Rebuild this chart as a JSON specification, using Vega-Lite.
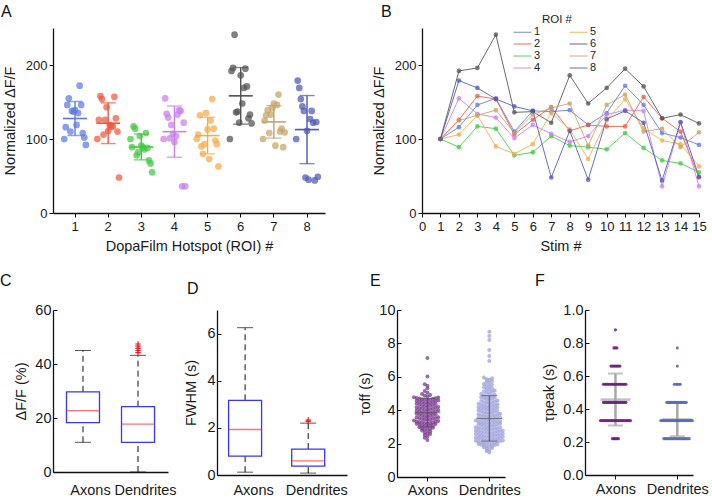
{
"$schema":"https://vega.github.io/schema/vega-lite/v6.json",
"padding":{"left":0,"top":4,"right":4,"bottom":2},
"config":{
 "font":"Liberation Sans",
 "view":{"stroke":null},
 "axis":{"grid":false,"domainColor":"#111","domainWidth":1.3,"tickColor":"#111","tickWidth":1,"tickSize":4,"labelFont":"Liberation Sans","labelFontSize":13,"labelColor":"#1a1a1a","titleFont":"Liberation Sans","titleFontSize":14.5,"titleFontWeight":"normal","titleColor":"#1a1a1a"},
 "title":{"fontSize":16,"fontWeight":"normal","anchor":"start","frame":"group","color":"#111","font":"Liberation Sans"}
},
"datasets":{
"roi":[
{"roi":"1","stim":1,"v":100},{"roi":"1","stim":2,"v":116},{"roi":"1","stim":3,"v":146},{"roi":"1","stim":4,"v":155},{"roi":"1","stim":5,"v":110},{"roi":"1","stim":6,"v":138},{"roi":"1","stim":7,"v":137},{"roi":"1","stim":8,"v":139},{"roi":"1","stim":9,"v":119},{"roi":"1","stim":10,"v":135},{"roi":"1","stim":11,"v":172},{"roi":"1","stim":12,"v":146},{"roi":"1","stim":13,"v":108},{"roi":"1","stim":14,"v":102},{"roi":"1","stim":15,"v":92},
{"roi":"2","stim":1,"v":100},{"roi":"2","stim":2,"v":126},{"roi":"2","stim":3,"v":158},{"roi":"2","stim":4,"v":154},{"roi":"2","stim":5,"v":106},{"roi":"2","stim":6,"v":126},{"roi":"2","stim":7,"v":143},{"roi":"2","stim":8,"v":111},{"roi":"2","stim":9,"v":119},{"roi":"2","stim":10,"v":117},{"roi":"2","stim":11,"v":117},{"roi":"2","stim":12,"v":157},{"roi":"2","stim":13,"v":128},{"roi":"2","stim":14,"v":110},{"roi":"2","stim":15,"v":48},
{"roi":"3","stim":1,"v":100},{"roi":"3","stim":2,"v":89},{"roi":"3","stim":3,"v":117},{"roi":"3","stim":4,"v":114},{"roi":"3","stim":5,"v":78},{"roi":"3","stim":6,"v":82},{"roi":"3","stim":7,"v":104},{"roi":"3","stim":8,"v":91},{"roi":"3","stim":9,"v":89},{"roi":"3","stim":10,"v":86},{"roi":"3","stim":11,"v":108},{"roi":"3","stim":12,"v":88},{"roi":"3","stim":13,"v":71},{"roi":"3","stim":14,"v":67},{"roi":"3","stim":15,"v":55},
{"roi":"4","stim":1,"v":100},{"roi":"4","stim":2,"v":155},{"roi":"4","stim":3,"v":134},{"roi":"4","stim":4,"v":129},{"roi":"4","stim":5,"v":101},{"roi":"4","stim":6,"v":119},{"roi":"4","stim":7,"v":107},{"roi":"4","stim":8,"v":96},{"roi":"4","stim":9,"v":104},{"roi":"4","stim":10,"v":133},{"roi":"4","stim":11,"v":139},{"roi":"4","stim":12,"v":138},{"roi":"4","stim":13,"v":36},{"roi":"4","stim":14,"v":122},{"roi":"4","stim":15,"v":36},
{"roi":"5","stim":1,"v":100},{"roi":"5","stim":2,"v":106},{"roi":"5","stim":3,"v":132},{"roi":"5","stim":4,"v":90},{"roi":"5","stim":5,"v":80},{"roi":"5","stim":6,"v":93},{"roi":"5","stim":7,"v":135},{"roi":"5","stim":8,"v":113},{"roi":"5","stim":9,"v":73},{"roi":"5","stim":10,"v":125},{"roi":"5","stim":11,"v":154},{"roi":"5","stim":12,"v":114},{"roi":"5","stim":13,"v":98},{"roi":"5","stim":14,"v":93},{"roi":"5","stim":15,"v":63},
{"roi":"6","stim":1,"v":100},{"roi":"6","stim":2,"v":192},{"roi":"6","stim":3,"v":196},{"roi":"6","stim":4,"v":241},{"roi":"6","stim":5,"v":136},{"roi":"6","stim":6,"v":137},{"roi":"6","stim":7,"v":122},{"roi":"6","stim":8,"v":186},{"roi":"6","stim":9,"v":148},{"roi":"6","stim":10,"v":169},{"roi":"6","stim":11,"v":195},{"roi":"6","stim":12,"v":171},{"roi":"6","stim":13,"v":128},{"roi":"6","stim":14,"v":133},{"roi":"6","stim":15,"v":121},
{"roi":"7","stim":1,"v":100},{"roi":"7","stim":2,"v":125},{"roi":"7","stim":3,"v":132},{"roi":"7","stim":4,"v":139},{"roi":"7","stim":5,"v":108},{"roi":"7","stim":6,"v":133},{"roi":"7","stim":7,"v":142},{"roi":"7","stim":8,"v":148},{"roi":"7","stim":9,"v":91},{"roi":"7","stim":10,"v":146},{"roi":"7","stim":11,"v":160},{"roi":"7","stim":12,"v":110},{"roi":"7","stim":13,"v":114},{"roi":"7","stim":14,"v":89},{"roi":"7","stim":15,"v":109},
{"roi":"8","stim":1,"v":100},{"roi":"8","stim":2,"v":179},{"roi":"8","stim":3,"v":169},{"roi":"8","stim":4,"v":154},{"roi":"8","stim":5,"v":144},{"roi":"8","stim":6,"v":138},{"roi":"8","stim":7,"v":48},{"roi":"8","stim":8,"v":111},{"roi":"8","stim":9,"v":45},{"roi":"8","stim":10,"v":127},{"roi":"8","stim":11,"v":138},{"roi":"8","stim":12,"v":122},{"roi":"8","stim":13,"v":44},{"roi":"8","stim":14,"v":123},{"roi":"8","stim":15,"v":49}
],
"cbox":[{"g":"Axons","lo":11,"q1":18.3,"med":22.7,"q3":29.7,"hi":45},{"g":"Dendrites","lo":0,"q1":11,"med":17.7,"q3":24.2,"hi":43.2}],
"cout":[{"g":"Dendrites","v":44.2},{"g":"Dendrites","v":45},{"g":"Dendrites","v":45.8},{"g":"Dendrites","v":46.6},{"g":"Dendrites","v":47.4}],
"dbox":[{"g":"Axons","lo":0.12,"q1":0.8,"med":1.93,"q3":3.17,"hi":6.25},{"g":"Dendrites","lo":0.08,"q1":0.38,"med":0.6,"q3":1.1,"hi":2.2}],
"dout":[{"g":"Dendrites","v":2.27},{"g":"Dendrites","v":2.33}],
"estat":[{"g":"Axons","m":3.85,"lo":3.0,"hi":4.7},{"g":"Dendrites","m":3.5,"lo":2.15,"hi":4.87}],
"fstat":[{"g":"Axons","m":0.457,"lo":0.3,"hi":0.615},{"g":"Dendrites","m":0.337,"lo":0.235,"hi":0.44}],
"edata":[
{"g":"Axons","v":2.22},{"g":"Axons","v":2.35},{"g":"Axons","v":2.42},{"g":"Axons","v":2.51},{"g":"Axons","v":2.58},{"g":"Axons","v":2.61},{"g":"Axons","v":2.66},{"g":"Axons","v":2.72},{"g":"Axons","v":2.78},{"g":"Axons","v":2.81},{"g":"Axons","v":2.84},{"g":"Axons","v":2.88},{"g":"Axons","v":2.91},{"g":"Axons","v":2.95},{"g":"Axons","v":2.98},{"g":"Axons","v":3.01},{"g":"Axons","v":3.04},{"g":"Axons","v":3.07},{"g":"Axons","v":3.09},{"g":"Axons","v":3.12},{"g":"Axons","v":3.14},{"g":"Axons","v":3.17},{"g":"Axons","v":3.19},{"g":"Axons","v":3.21},{"g":"Axons","v":3.22},{"g":"Axons","v":3.24},{"g":"Axons","v":3.26},{"g":"Axons","v":3.28},{"g":"Axons","v":3.3},{"g":"Axons","v":3.32},{"g":"Axons","v":3.33},{"g":"Axons","v":3.36},{"g":"Axons","v":3.38},{"g":"Axons","v":3.41},{"g":"Axons","v":3.43},{"g":"Axons","v":3.45},{"g":"Axons","v":3.47},{"g":"Axons","v":3.5},{"g":"Axons","v":3.52},{"g":"Axons","v":3.54},{"g":"Axons","v":3.56},{"g":"Axons","v":3.58},{"g":"Axons","v":3.61},{"g":"Axons","v":3.63},{"g":"Axons","v":3.66},{"g":"Axons","v":3.68},{"g":"Axons","v":3.71},{"g":"Axons","v":3.73},{"g":"Axons","v":3.76},{"g":"Axons","v":3.78},{"g":"Axons","v":3.81},{"g":"Axons","v":3.83},{"g":"Axons","v":3.85},{"g":"Axons","v":3.87},{"g":"Axons","v":3.89},{"g":"Axons","v":3.92},{"g":"Axons","v":3.94},{"g":"Axons","v":3.96},{"g":"Axons","v":3.98},{"g":"Axons","v":4.01},{"g":"Axons","v":4.03},{"g":"Axons","v":4.05},{"g":"Axons","v":4.08},{"g":"Axons","v":4.1},{"g":"Axons","v":4.12},{"g":"Axons","v":4.14},{"g":"Axons","v":4.16},{"g":"Axons","v":4.19},{"g":"Axons","v":4.21},{"g":"Axons","v":4.23},{"g":"Axons","v":4.26},{"g":"Axons","v":4.28},{"g":"Axons","v":4.31},{"g":"Axons","v":4.33},{"g":"Axons","v":4.36},{"g":"Axons","v":4.38},{"g":"Axons","v":4.41},{"g":"Axons","v":4.43},{"g":"Axons","v":4.45},{"g":"Axons","v":4.47},{"g":"Axons","v":4.5},{"g":"Axons","v":4.52},{"g":"Axons","v":4.54},{"g":"Axons","v":4.56},{"g":"Axons","v":4.58},{"g":"Axons","v":4.61},{"g":"Axons","v":4.62},{"g":"Axons","v":4.64},{"g":"Axons","v":4.66},{"g":"Axons","v":4.68},{"g":"Axons","v":4.7},{"g":"Axons","v":4.72},{"g":"Axons","v":4.73},{"g":"Axons","v":4.76},{"g":"Axons","v":4.78},{"g":"Axons","v":4.82},{"g":"Axons","v":4.86},{"g":"Axons","v":4.91},{"g":"Axons","v":4.97},{"g":"Axons","v":5.05},{"g":"Axons","v":5.15},{"g":"Axons","v":5.31},{"g":"Axons","v":5.47},{"g":"Axons","v":5.56},{"g":"Axons","v":6.02},{"g":"Axons","v":7.12},
{"g":"Dendrites","v":1.47},{"g":"Dendrites","v":1.56},{"g":"Dendrites","v":1.62},{"g":"Dendrites","v":1.67},{"g":"Dendrites","v":1.73},{"g":"Dendrites","v":1.78},{"g":"Dendrites","v":1.81},{"g":"Dendrites","v":1.83},{"g":"Dendrites","v":1.86},{"g":"Dendrites","v":1.88},{"g":"Dendrites","v":1.91},{"g":"Dendrites","v":1.93},{"g":"Dendrites","v":1.96},{"g":"Dendrites","v":1.98},{"g":"Dendrites","v":2.01},{"g":"Dendrites","v":2.02},{"g":"Dendrites","v":2.04},{"g":"Dendrites","v":2.06},{"g":"Dendrites","v":2.08},{"g":"Dendrites","v":2.1},{"g":"Dendrites","v":2.12},{"g":"Dendrites","v":2.14},{"g":"Dendrites","v":2.15},{"g":"Dendrites","v":2.17},{"g":"Dendrites","v":2.19},{"g":"Dendrites","v":2.21},{"g":"Dendrites","v":2.22},{"g":"Dendrites","v":2.24},{"g":"Dendrites","v":2.26},{"g":"Dendrites","v":2.28},{"g":"Dendrites","v":2.3},{"g":"Dendrites","v":2.31},{"g":"Dendrites","v":2.33},{"g":"Dendrites","v":2.35},{"g":"Dendrites","v":2.37},{"g":"Dendrites","v":2.39},{"g":"Dendrites","v":2.41},{"g":"Dendrites","v":2.42},{"g":"Dendrites","v":2.44},{"g":"Dendrites","v":2.46},{"g":"Dendrites","v":2.48},{"g":"Dendrites","v":2.5},{"g":"Dendrites","v":2.52},{"g":"Dendrites","v":2.53},{"g":"Dendrites","v":2.55},{"g":"Dendrites","v":2.57},{"g":"Dendrites","v":2.59},{"g":"Dendrites","v":2.61},{"g":"Dendrites","v":2.63},{"g":"Dendrites","v":2.64},{"g":"Dendrites","v":2.66},{"g":"Dendrites","v":2.68},{"g":"Dendrites","v":2.7},{"g":"Dendrites","v":2.72},{"g":"Dendrites","v":2.74},{"g":"Dendrites","v":2.75},{"g":"Dendrites","v":2.77},{"g":"Dendrites","v":2.79},{"g":"Dendrites","v":2.81},{"g":"Dendrites","v":2.83},{"g":"Dendrites","v":2.85},{"g":"Dendrites","v":2.87},{"g":"Dendrites","v":2.89},{"g":"Dendrites","v":2.9},{"g":"Dendrites","v":2.92},{"g":"Dendrites","v":2.94},{"g":"Dendrites","v":2.96},{"g":"Dendrites","v":2.98},{"g":"Dendrites","v":3.01},{"g":"Dendrites","v":3.03},{"g":"Dendrites","v":3.05},{"g":"Dendrites","v":3.08},{"g":"Dendrites","v":3.1},{"g":"Dendrites","v":3.12},{"g":"Dendrites","v":3.14},{"g":"Dendrites","v":3.16},{"g":"Dendrites","v":3.19},{"g":"Dendrites","v":3.21},{"g":"Dendrites","v":3.23},{"g":"Dendrites","v":3.25},{"g":"Dendrites","v":3.27},{"g":"Dendrites","v":3.29},{"g":"Dendrites","v":3.3},{"g":"Dendrites","v":3.32},{"g":"Dendrites","v":3.34},{"g":"Dendrites","v":3.36},{"g":"Dendrites","v":3.38},{"g":"Dendrites","v":3.41},{"g":"Dendrites","v":3.43},{"g":"Dendrites","v":3.45},{"g":"Dendrites","v":3.47},{"g":"Dendrites","v":3.49},{"g":"Dendrites","v":3.51},{"g":"Dendrites","v":3.54},{"g":"Dendrites","v":3.56},{"g":"Dendrites","v":3.58},{"g":"Dendrites","v":3.61},{"g":"Dendrites","v":3.63},{"g":"Dendrites","v":3.65},{"g":"Dendrites","v":3.67},{"g":"Dendrites","v":3.69},{"g":"Dendrites","v":3.72},{"g":"Dendrites","v":3.74},{"g":"Dendrites","v":3.76},{"g":"Dendrites","v":3.78},{"g":"Dendrites","v":3.81},{"g":"Dendrites","v":3.83},{"g":"Dendrites","v":3.86},{"g":"Dendrites","v":3.88},{"g":"Dendrites","v":3.9},{"g":"Dendrites","v":3.93},{"g":"Dendrites","v":3.95},{"g":"Dendrites","v":3.98},{"g":"Dendrites","v":4.01},{"g":"Dendrites","v":4.04},{"g":"Dendrites","v":4.06},{"g":"Dendrites","v":4.08},{"g":"Dendrites","v":4.11},{"g":"Dendrites","v":4.13},{"g":"Dendrites","v":4.16},{"g":"Dendrites","v":4.18},{"g":"Dendrites","v":4.21},{"g":"Dendrites","v":4.23},{"g":"Dendrites","v":4.26},{"g":"Dendrites","v":4.28},{"g":"Dendrites","v":4.31},{"g":"Dendrites","v":4.33},{"g":"Dendrites","v":4.35},{"g":"Dendrites","v":4.38},{"g":"Dendrites","v":4.41},{"g":"Dendrites","v":4.44},{"g":"Dendrites","v":4.46},{"g":"Dendrites","v":4.49},{"g":"Dendrites","v":4.52},{"g":"Dendrites","v":4.55},{"g":"Dendrites","v":4.58},{"g":"Dendrites","v":4.62},{"g":"Dendrites","v":4.65},{"g":"Dendrites","v":4.68},{"g":"Dendrites","v":4.71},{"g":"Dendrites","v":4.74},{"g":"Dendrites","v":4.77},{"g":"Dendrites","v":4.81},{"g":"Dendrites","v":4.84},{"g":"Dendrites","v":4.87},{"g":"Dendrites","v":4.9},{"g":"Dendrites","v":4.94},{"g":"Dendrites","v":4.97},{"g":"Dendrites","v":5.02},{"g":"Dendrites","v":5.06},{"g":"Dendrites","v":5.1},{"g":"Dendrites","v":5.14},{"g":"Dendrites","v":5.18},{"g":"Dendrites","v":5.22},{"g":"Dendrites","v":5.27},{"g":"Dendrites","v":5.32},{"g":"Dendrites","v":5.37},{"g":"Dendrites","v":5.42},{"g":"Dendrites","v":5.47},{"g":"Dendrites","v":5.52},{"g":"Dendrites","v":5.57},{"g":"Dendrites","v":5.63},{"g":"Dendrites","v":5.69},{"g":"Dendrites","v":5.75},{"g":"Dendrites","v":5.82},{"g":"Dendrites","v":5.86},{"g":"Dendrites","v":5.91},{"g":"Dendrites","v":5.96},{"g":"Dendrites","v":6.95},{"g":"Dendrites","v":7.25},{"g":"Dendrites","v":7.6},{"g":"Dendrites","v":8.2},{"g":"Dendrites","v":8.45},{"g":"Dendrites","v":8.7}
],
"fdata":[
{"g":"Axons","v":0.22},{"g":"Axons","v":0.22},{"g":"Axons","v":0.22},{"g":"Axons","v":0.22},{"g":"Axons","v":0.22},
{"g":"Axons","v":0.33},{"g":"Axons","v":0.33},{"g":"Axons","v":0.33},{"g":"Axons","v":0.33},{"g":"Axons","v":0.33},{"g":"Axons","v":0.33},{"g":"Axons","v":0.33},{"g":"Axons","v":0.33},{"g":"Axons","v":0.33},{"g":"Axons","v":0.33},{"g":"Axons","v":0.33},{"g":"Axons","v":0.33},{"g":"Axons","v":0.33},{"g":"Axons","v":0.33},{"g":"Axons","v":0.33},{"g":"Axons","v":0.33},{"g":"Axons","v":0.33},{"g":"Axons","v":0.33},{"g":"Axons","v":0.33},{"g":"Axons","v":0.33},{"g":"Axons","v":0.33},
{"g":"Axons","v":0.44},{"g":"Axons","v":0.44},{"g":"Axons","v":0.44},{"g":"Axons","v":0.44},{"g":"Axons","v":0.44},{"g":"Axons","v":0.44},{"g":"Axons","v":0.44},{"g":"Axons","v":0.44},{"g":"Axons","v":0.44},{"g":"Axons","v":0.44},{"g":"Axons","v":0.44},{"g":"Axons","v":0.44},{"g":"Axons","v":0.44},{"g":"Axons","v":0.44},{"g":"Axons","v":0.44},{"g":"Axons","v":0.44},
{"g":"Axons","v":0.55},{"g":"Axons","v":0.55},{"g":"Axons","v":0.55},{"g":"Axons","v":0.55},{"g":"Axons","v":0.55},{"g":"Axons","v":0.55},{"g":"Axons","v":0.55},{"g":"Axons","v":0.55},{"g":"Axons","v":0.55},{"g":"Axons","v":0.55},{"g":"Axons","v":0.55},{"g":"Axons","v":0.55},{"g":"Axons","v":0.55},{"g":"Axons","v":0.55},{"g":"Axons","v":0.55},{"g":"Axons","v":0.55},
{"g":"Axons","v":0.66},{"g":"Axons","v":0.66},{"g":"Axons","v":0.66},{"g":"Axons","v":0.66},{"g":"Axons","v":0.66},{"g":"Axons","v":0.66},{"g":"Axons","v":0.66},
{"g":"Axons","v":0.77},{"g":"Axons","v":0.77},{"g":"Axons","v":0.77},
{"g":"Axons","v":0.88},
{"g":"Dendrites","v":0.22},{"g":"Dendrites","v":0.22},{"g":"Dendrites","v":0.22},{"g":"Dendrites","v":0.22},{"g":"Dendrites","v":0.22},{"g":"Dendrites","v":0.22},{"g":"Dendrites","v":0.22},{"g":"Dendrites","v":0.22},{"g":"Dendrites","v":0.22},{"g":"Dendrites","v":0.22},{"g":"Dendrites","v":0.22},{"g":"Dendrites","v":0.22},{"g":"Dendrites","v":0.22},{"g":"Dendrites","v":0.22},{"g":"Dendrites","v":0.22},{"g":"Dendrites","v":0.22},{"g":"Dendrites","v":0.22},{"g":"Dendrites","v":0.22},
{"g":"Dendrites","v":0.33},{"g":"Dendrites","v":0.33},{"g":"Dendrites","v":0.33},{"g":"Dendrites","v":0.33},{"g":"Dendrites","v":0.33},{"g":"Dendrites","v":0.33},{"g":"Dendrites","v":0.33},{"g":"Dendrites","v":0.33},{"g":"Dendrites","v":0.33},{"g":"Dendrites","v":0.33},{"g":"Dendrites","v":0.33},{"g":"Dendrites","v":0.33},{"g":"Dendrites","v":0.33},{"g":"Dendrites","v":0.33},{"g":"Dendrites","v":0.33},{"g":"Dendrites","v":0.33},{"g":"Dendrites","v":0.33},{"g":"Dendrites","v":0.33},{"g":"Dendrites","v":0.33},{"g":"Dendrites","v":0.33},{"g":"Dendrites","v":0.33},{"g":"Dendrites","v":0.33},
{"g":"Dendrites","v":0.44},{"g":"Dendrites","v":0.44},{"g":"Dendrites","v":0.44},{"g":"Dendrites","v":0.44},{"g":"Dendrites","v":0.44},{"g":"Dendrites","v":0.44},{"g":"Dendrites","v":0.44},{"g":"Dendrites","v":0.44},{"g":"Dendrites","v":0.44},{"g":"Dendrites","v":0.44},{"g":"Dendrites","v":0.44},{"g":"Dendrites","v":0.44},{"g":"Dendrites","v":0.44},{"g":"Dendrites","v":0.44},
{"g":"Dendrites","v":0.55},{"g":"Dendrites","v":0.55},{"g":"Dendrites","v":0.55},{"g":"Dendrites","v":0.55},{"g":"Dendrites","v":0.55},
{"g":"Dendrites","v":0.66},
{"g":"Dendrites","v":0.77}
]
},
"vconcat":[
{"hconcat":[
 {
  "width":272,"height":185,
  "title":{"text":"A","dx":-52,"offset":8},
  "data":{"name":"roi"},
  "encoding":{
   "x":{"field":"roi","type":"nominal","scale":{"type":"band","paddingInner":0.3,"paddingOuter":0.2535,"align":0.62},"axis":{"title":"DopaFilm Hotspot (ROI) #","labelAngle":0,"labelPadding":3,"titlePadding":6}},
   "y":{"field":"v","type":"quantitative","scale":{"domain":[0,250]},"axis":{"values":[0,100,200],"title":"Normalized ΔF/F","titlePadding":8}},
   "color":{"field":"roi","type":"nominal","scale":{"domain":["1","2","3","4","5","6","7","8"],"range":["#5b7ae6","#f0573b","#40c940","#c97ded","#f6aa48","#505050","#c6a267","#4b57b5"]},"legend":null}
  },
  "layer":[
   {"mark":{"type":"circle","size":45,"opacity":0.72},"encoding":{"xOffset":{"field":"stim","type":"nominal"}}},
   {"mark":{"type":"errorbar","extent":"stdev","thickness":1.4,"ticks":{"size":15}}},
   {"mark":{"type":"tick","size":24,"thickness":1.6},"encoding":{"y":{"aggregate":"mean","field":"v","type":"quantitative","title":"Normalized ΔF/F"}}}
  ]
 },
 {
  "width":277,"height":185,
  "title":{"text":"B","dx":-41,"offset":-6},
  "data":{"name":"roi"},
  "encoding":{
   "x":{"field":"stim","type":"quantitative","scale":{"domain":[0,15],"nice":false},"axis":{"values":[0,1,2,3,4,5,6,7,8,9,10,11,12,13,14,15],"title":"Stim #","labelFlush":false,"labelPadding":3,"titlePadding":6}},
   "y":{"field":"v","type":"quantitative","scale":{"domain":[0,250]},"axis":{"values":[0,100,200],"title":"Normalized ΔF/F","titlePadding":8}}
  },
  "layer":[
   {"mark":{"type":"line","strokeWidth":1,"opacity":0.85},"encoding":{"color":{"field":"roi","type":"nominal","scale":{"domain":["1","2","3","4","5","6","7","8"],"range":["#5b7ae6","#f0573b","#40c940","#c97ded","#f6aa48","#505050","#c6a267","#4b57b5"]},"legend":{"orient":"none","legendX":95,"legendY":-14,"columns":2,"title":"ROI #","titleAnchor":"middle","titleFontSize":11.5,"titleFontWeight":"normal","titleColor":"#222","titlePadding":1,"symbolType":"M-3,0H3","symbolSize":36,"symbolStrokeWidth":1,"labelFontSize":11,"labelColor":"#222","labelOffset":6,"rowPadding":0,"columnPadding":26,"padding":0}}}},
   {"mark":{"type":"circle","size":22,"opacity":0.75},"encoding":{"fill":{"field":"roi","type":"nominal","scale":{"domain":["1","2","3","4","5","6","7","8"],"range":["#5b7ae6","#f0573b","#40c940","#c97ded","#f6aa48","#505050","#c6a267","#4b57b5"]},"legend":null}}}
  ]
 }
],"spacing":97,"bounds":"flush","resolve":{"scale":{"color":"independent","fill":"independent","xOffset":"independent"}}},
{"hconcat":[
  {
   "width":115,"height":162,
   "title":{"text":"C","dx":-53,"offset":13},
   "data":{"name":"cbox"},
   "encoding":{"x":{"field":"g","type":"nominal","scale":{"type":"point","padding":0.545,"domain":["Axons","Dendrites"]},"axis":{"title":null,"labelAngle":0,"ticks":false,"labelPadding":11,"labelOffset":7,"labelFontSize":14.5}}},
   "layer":[
    {"mark":{"type":"rule","strokeDash":[6,4],"color":"#111","strokeWidth":1},"encoding":{"y":{"field":"q3","type":"quantitative","scale":{"domain":[0,60]},"axis":{"title":"ΔF/F (%)","values":[0,10,20,30,40,50,60],"labelExpr":"datum.value % 20 === 0 ? datum.label : ''","tickSize":-4,"labelPadding":6,"labelFontSize":14.5,"titlePadding":6}},"y2":{"field":"hi"}}},
    {"mark":{"type":"rule","strokeDash":[6,4],"color":"#111","strokeWidth":1},"encoding":{"y":{"field":"lo","type":"quantitative","title":"ΔF/F (%)"},"y2":{"field":"q1"}}},
    {"mark":{"type":"tick","size":16,"thickness":1,"color":"#111"},"encoding":{"y":{"field":"hi","type":"quantitative","title":"ΔF/F (%)"}}},
    {"mark":{"type":"tick","size":16,"thickness":1,"color":"#111"},"encoding":{"y":{"field":"lo","type":"quantitative","title":"ΔF/F (%)"}}},
    {"mark":{"type":"bar","width":33,"fill":"transparent","stroke":"#3535ff","strokeWidth":1.3},"encoding":{"y":{"field":"q1","type":"quantitative","title":"ΔF/F (%)"},"y2":{"field":"q3"}}},
    {"mark":{"type":"tick","size":33,"thickness":1.3,"color":"#ff3030"},"encoding":{"y":{"field":"med","type":"quantitative","title":"ΔF/F (%)"}}},
    {"data":{"name":"cout"},"mark":{"type":"point","shape":"M-1,0H1M0,-1V1","size":30,"color":"#ff1a1a","strokeWidth":1.2,"filled":false,"opacity":1},"encoding":{"y":{"field":"v","type":"quantitative","title":"ΔF/F (%)"}}}
   ]
  },
  {"width":49,"height":10,"data":{"values":[]},"mark":{"type":"point"},"encoding":{}},
  {
   "width":130,"height":165,
   "title":{"text":"D","dx":-30,"offset":13},
   "data":{"name":"dbox"},
   "encoding":{"x":{"field":"g","type":"nominal","scale":{"type":"point","padding":0.53,"align":0.42,"domain":["Axons","Dendrites"]},"axis":{"title":null,"labelAngle":0,"ticks":false,"labelPadding":8,"labelOffset":8,"labelFontSize":14.5}}},
   "layer":[
    {"mark":{"type":"rule","strokeDash":[6,4],"color":"#111","strokeWidth":1},"encoding":{"y":{"field":"q3","type":"quantitative","scale":{"domain":[0,7]},"axis":{"title":"FWHM (s)","values":[0,1,2,3,4,5,6,7],"labelExpr":"datum.value % 2 === 0 ? datum.label : ''","tickSize":-4,"labelPadding":6,"labelFontSize":14.5,"titlePadding":8}},"y2":{"field":"hi"}}},
    {"mark":{"type":"rule","strokeDash":[6,4],"color":"#111","strokeWidth":1},"encoding":{"y":{"field":"lo","type":"quantitative","title":"FWHM (s)"},"y2":{"field":"q1"}}},
    {"mark":{"type":"tick","size":16,"thickness":1,"color":"#111"},"encoding":{"y":{"field":"hi","type":"quantitative","title":"FWHM (s)"}}},
    {"mark":{"type":"tick","size":16,"thickness":1,"color":"#111"},"encoding":{"y":{"field":"lo","type":"quantitative","title":"FWHM (s)"}}},
    {"mark":{"type":"bar","width":33,"fill":"transparent","stroke":"#3535ff","strokeWidth":1.3},"encoding":{"y":{"field":"q1","type":"quantitative","title":"FWHM (s)"},"y2":{"field":"q3"}}},
    {"mark":{"type":"tick","size":33,"thickness":1.3,"color":"#ff3030"},"encoding":{"y":{"field":"med","type":"quantitative","title":"FWHM (s)"}}},
    {"data":{"name":"dout"},"mark":{"type":"point","shape":"M-1,0H1M0,-1V1","size":30,"color":"#ff1a1a","strokeWidth":1.2,"filled":false,"opacity":1},"encoding":{"y":{"field":"v","type":"quantitative","title":"FWHM (s)"}}}
   ]
  },
  {"width":50,"height":10,"data":{"values":[]},"mark":{"type":"point"},"encoding":{}},
  {
   "width":108,"height":167,
   "title":{"text":"E","dx":-27,"offset":13},
   "encoding":{
    "x":{"field":"g","type":"nominal","scale":{"type":"point","padding":0.373,"align":0.66,"domain":["Axons","Dendrites"]},"axis":{"title":null,"labelAngle":0,"tickSize":4,"labelPadding":2,"labelFontSize":14.5}},
    "y":{"field":"v","type":"quantitative","scale":{"domain":[0,10]},"axis":{"title":"τoff (s)","values":[0,2,4,6,8,10],"tickSize":-4,"labelPadding":6,"labelFontSize":14.5,"titlePadding":6}},
    "color":{"field":"g","type":"nominal","scale":{"domain":["Axons","Dendrites"],"range":["#7b3a8f","#9ca2da"]},"legend":null}
   },
   "layer":[
    {"data":{"name":"edata"},"transform":[{"bin":{"step":0.2},"field":"v","as":"vb"},{"window":[{"op":"row_number","as":"r"}],"groupby":["g","vb"],"sort":[{"field":"v","order":"ascending"}]},{"filter":"datum.r % 2 == 1"}],"mark":{"type":"circle","size":16,"opacity":0.75},"encoding":{"xOffset":{"field":"r","type":"quantitative","scale":{"domain":[-9,11],"range":[-13.5,13.5]}}}},
    {"data":{"name":"edata"},"transform":[{"bin":{"step":0.2},"field":"v","as":"vb"},{"window":[{"op":"row_number","as":"r"}],"groupby":["g","vb"],"sort":[{"field":"v","order":"ascending"}]},{"filter":"datum.r % 2 == 0"}],"mark":{"type":"circle","size":16,"opacity":0.75},"encoding":{"xOffset":{"field":"r","type":"quantitative","scale":{"domain":[-10,10],"range":[13.5,-13.5]}}}},
    {"data":{"name":"estat"},"mark":{"type":"rule","strokeWidth":1},"encoding":{"y":{"field":"lo","type":"quantitative","title":"τoff (s)"},"y2":{"field":"hi"},"color":{"value":"#555"}}},
    {"data":{"name":"estat"},"mark":{"type":"tick","size":16,"thickness":1},"encoding":{"y":{"field":"lo","type":"quantitative","title":"τoff (s)"},"color":{"value":"#555"}}},
    {"data":{"name":"estat"},"mark":{"type":"tick","size":16,"thickness":1},"encoding":{"y":{"field":"hi","type":"quantitative","title":"τoff (s)"},"color":{"value":"#555"}}},
    {"data":{"name":"estat"},"mark":{"type":"tick","size":26,"thickness":1},"encoding":{"y":{"field":"m","type":"quantitative","title":"τoff (s)"},"color":{"value":"#555"}}}
   ],
   "resolve":{"scale":{"xOffset":"independent"}}
  },
  {"width":80,"height":10,"data":{"values":[]},"mark":{"type":"point"},"encoding":{}},
  {
  "width":108,"height":165,
  "title":{"text":"F","dx":-50,"offset":13},
  "encoding":{
   "x":{"field":"g","type":"nominal","scale":{"type":"point","padding":0.373,"align":0.66,"domain":["Axons","Dendrites"]},"axis":{"title":null,"labelAngle":0,"tickSize":4,"labelPadding":3,"labelFontSize":14.5}},
   "y":{"field":"v","type":"quantitative","scale":{"domain":[0,1]},"axis":{"title":"τpeak (s)","values":[0,0.2,0.4,0.6,0.8,1],"format":".1f","tickSize":-4,"labelPadding":6,"labelFontSize":14.5,"titlePadding":6}},
   "color":{"field":"g","type":"nominal","scale":{"domain":["Axons","Dendrites"],"range":["#6a1b7c","#5566b2"]},"legend":null}
  },
  "layer":[
   {"data":{"name":"fstat"},"mark":{"type":"rule","strokeWidth":2.5},"encoding":{"y":{"field":"lo","type":"quantitative","title":"τpeak (s)"},"y2":{"field":"hi"},"color":{"value":"#a8a8a8"}}},
   {"data":{"name":"fstat"},"mark":{"type":"tick","size":15,"thickness":2},"encoding":{"y":{"field":"lo","type":"quantitative","title":"τpeak (s)"},"color":{"value":"#a8a8a8"}}},
   {"data":{"name":"fstat"},"mark":{"type":"tick","size":15,"thickness":2},"encoding":{"y":{"field":"hi","type":"quantitative","title":"τpeak (s)"},"color":{"value":"#a8a8a8"}}},
   {"data":{"name":"fstat"},"mark":{"type":"tick","size":30,"thickness":2.5},"encoding":{"y":{"field":"m","type":"quantitative","title":"τpeak (s)"},"color":{"value":"#a8a8a8"}}},
   {"data":{"name":"fdata"},"transform":[{"window":[{"op":"row_number","as":"r"}],"groupby":["g","v"]},{"filter":"datum.r % 2 == 1"}],"mark":{"type":"circle","size":10,"opacity":0.85},"encoding":{"xOffset":{"field":"r","type":"quantitative","scale":{"domain":[-9,11],"range":[-7.5,7.5]}}}},
   {"data":{"name":"fdata"},"transform":[{"window":[{"op":"row_number","as":"r"}],"groupby":["g","v"]},{"filter":"datum.r % 2 == 0"}],"mark":{"type":"circle","size":10,"opacity":0.85},"encoding":{"xOffset":{"field":"r","type":"quantitative","scale":{"domain":[-10,10],"range":[7.5,-7.5]}}}}
  ],
  "resolve":{"scale":{"xOffset":"independent"}}
 }
],"spacing":0,"bounds":"flush","resolve":{"scale":{"color":"independent","fill":"independent","xOffset":"independent"}}}
],
"spacing":20,
"resolve":{"scale":{"color":"independent","fill":"independent","xOffset":"independent"}}
}
